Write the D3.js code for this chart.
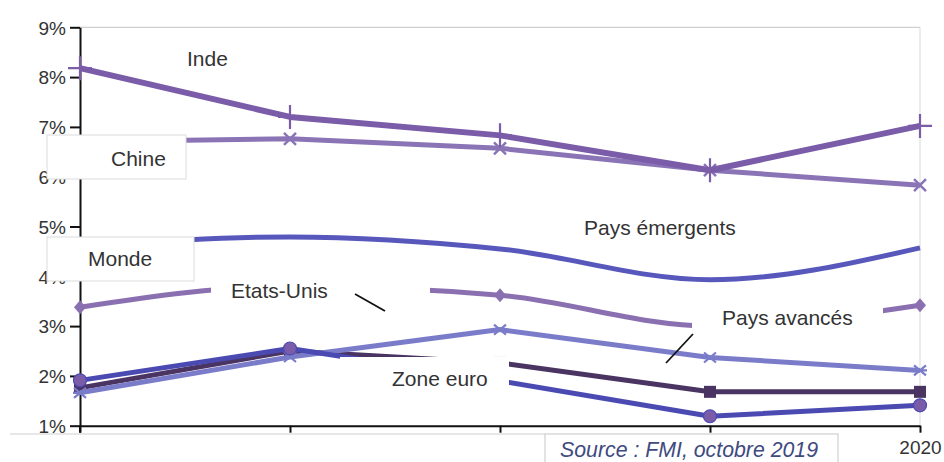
<!DOCTYPE html>
<html lang="fr">
<head>
<meta charset="utf-8">
<title>Croissance du PIB</title>
<script src="https://cdn.jsdelivr.net/npm/d3@7"></script>
<style>
  html, body { margin: 0; padding: 0; background: #fff; }
  svg { display: block; font-family: "Liberation Sans", Arial, sans-serif; }
</style>
</head>
<body>
<svg id="chart" width="944" height="462"></svg>
<script>
// Years and tick labels
const years = ["2016", "2017", "2018", "2019", "2020"];
const yTicks = [1, 2, 3, 4, 5, 6, 7, 8, 9];

// Growth rates in % per year
const inde      = [8.18, 7.20, 6.83, 6.13, 7.02];
const chine     = [6.70, 6.76, 6.57, 6.13, 5.83];
const emergents = [4.60, 4.79, 4.55, 3.93, 4.57];
const monde     = [3.38, 3.80, 3.62, 3.00, 3.42];
const avances   = [1.76, 2.50, 2.26, 1.68, 1.68];
const etatsUnis = [1.66, 2.38, 2.93, 2.37, 2.11];
const zoneEuro  = [1.91, 2.55, 1.90, 1.19, 1.41];

const series = [
  { name: "Pays émergents", values: emergents, color: "#5858bc", width: 5, marker: "none",    smooth: true },
  { name: "Monde",          values: monde,     color: "#8a70b0", width: 5, marker: "diamond", smooth: true },
  { name: "Chine",          values: chine,     color: "#8a74b6", width: 5, marker: "cross",   smooth: false },
  { name: "Inde",           values: inde,      color: "#7a5ca8", width: 6, marker: "plus",    smooth: false },
  { name: "Pays avancés",   values: avances,   color: "#4a3462", width: 5, marker: "square",  smooth: false },
  { name: "Etats-Unis",     values: etatsUnis, color: "#7a7cca", width: 5, marker: "star",    smooth: false },
  { name: "Zone euro",      values: zoneEuro,  color: "#4a4ab2", width: 5, marker: "circle",  smooth: false }
];

const svg = d3.select("#chart");
const x = d3.scalePoint().domain(years).range([80, 920]);
const y = d3.scaleLinear().domain([1, 9]).range([425.7, 27.3]);

// Plot frame: top gridline and right border
svg.append("line").attr("x1", x(years[0])).attr("x2", x(years[4]))
  .attr("y1", y(9)).attr("y2", y(9)).attr("stroke", "#d0d0d0").attr("stroke-width", 1.2);
svg.append("line").attr("x1", x(years[4])).attr("x2", x(years[4]))
  .attr("y1", y(9)).attr("y2", y(1)).attr("stroke", "#e0e0e0").attr("stroke-width", 1.2);

// Axes (only the last year is labelled; the others sit under the footer)
const yAxis = d3.axisLeft(y).tickValues(yTicks).tickFormat(d => d + "%").tickSize(10).tickSizeOuter(0);
const gy = svg.append("g").attr("transform", `translate(${x(years[0])},0)`).call(yAxis);
const xAxis = d3.axisBottom(x).tickSize(7).tickSizeOuter(0)
  .tickFormat(d => d === years[years.length - 1] ? d : "");
const gx = svg.append("g").attr("transform", `translate(0,${y(1)})`).call(xAxis);
[gy, gx].forEach(g => {
  g.select(".domain").attr("stroke", "#111").attr("stroke-width", 2);
  g.selectAll(".tick line").attr("stroke", "#111").attr("stroke-width", 2);
  g.selectAll(".tick text").attr("fill", "#333").style("font-size", "19px")
    .style("font-family", "'Liberation Sans', Arial, sans-serif");
});
gy.selectAll(".tick text").attr("x", -14).attr("dy", "0.36em");
gx.selectAll(".tick text").attr("y", 15).attr("dy", "0.71em");
gx.selectAll(".tick text").filter(d => d !== years[years.length - 1]).remove();
// extend the vertical axis slightly below the baseline
svg.append("line").attr("x1", x(years[0])).attr("x2", x(years[0]))
  .attr("y1", y(1)).attr("y2", y(1) + 7).attr("stroke", "#111").attr("stroke-width", 2);

// Lines
const smoothLine = d3.line().x((d, i) => x(years[i])).y(d => y(d)).curve(d3.curveMonotoneX);
const straightLine = d3.line().x((d, i) => x(years[i])).y(d => y(d));

const gLines = svg.append("g");
series.forEach(s => {
  const g = gLines.append("g");
  g.append("path").datum(s.values).attr("d", s.smooth ? smoothLine : straightLine)
    .attr("fill", "none").attr("stroke", s.color).attr("stroke-width", s.width)
    .attr("stroke-linejoin", "round").attr("stroke-linecap", "butt");

  const pts = s.values.map((v, i) => [x(years[i]), y(v)]);
  pts.forEach(([px, py]) => {
    if (s.marker === "plus") {
      g.append("path").attr("d", `M${px - 12},${py}H${px + 12}M${px},${py - 12}V${py + 12}`)
        .attr("stroke", s.color).attr("stroke-width", 2.2);
    } else if (s.marker === "cross") {
      g.append("path").attr("d", `M${px - 6},${py - 6}L${px + 6},${py + 6}M${px - 6},${py + 6}L${px + 6},${py - 6}`)
        .attr("stroke", s.color).attr("stroke-width", 2.5);
    } else if (s.marker === "star") {
      g.append("path").attr("d", `M${px - 6},${py - 5}L${px + 6},${py + 5}M${px - 6},${py + 5}L${px + 6},${py - 5}M${px - 7},${py}H${px + 7}`)
        .attr("stroke", s.color).attr("stroke-width", 2.2);
    } else if (s.marker === "diamond") {
      g.append("path").attr("d", `M${px},${py - 7}L${px + 6},${py}L${px},${py + 7}L${px - 6},${py}Z`)
        .attr("fill", s.color);
    } else if (s.marker === "square") {
      g.append("rect").attr("x", px - 6).attr("y", py - 6).attr("width", 12).attr("height", 12)
        .attr("fill", s.color);
    } else if (s.marker === "circle") {
      g.append("circle").attr("cx", px).attr("cy", py).attr("r", 6.5)
        .attr("fill", "#7a5ca8").attr("stroke", s.color).attr("stroke-width", 1.2);
    }
  });
});

// Annotation boxes (white backgrounds behind the series labels)
const boxes = [
  { x: 47,  y: 135, w: 139, h: 44, border: true },
  { x: 47,  y: 237, w: 147, h: 44, border: true },
  { x: 211, y: 262, w: 219, h: 58, border: false },
  { x: 340, y: 357, w: 169, h: 48, border: false },
  { x: 692, y: 296, w: 191, h: 48, border: false }
];
svg.append("g").selectAll("rect").data(boxes).join("rect")
  .attr("x", d => d.x).attr("y", d => d.y).attr("width", d => d.w).attr("height", d => d.h)
  .attr("fill", "#fff").attr("stroke", d => d.border ? "#dcdcdc" : "none").attr("stroke-width", 1);

// Series labels
const labels = [
  { text: "Inde",           x: 187, y: 66 },
  { text: "Chine",          x: 111, y: 166 },
  { text: "Monde",          x: 88,  y: 266 },
  { text: "Etats-Unis",     x: 231, y: 298 },
  { text: "Pays émergents", x: 584, y: 235 },
  { text: "Pays avancés",   x: 722, y: 325 },
  { text: "Zone euro",      x: 392, y: 386 }
];
svg.append("g").selectAll("text").data(labels).join("text")
  .attr("x", d => d.x).attr("y", d => d.y).text(d => d.text)
  .attr("fill", "#333").style("font-size", "21px");

// Leader lines
const leaders = [
  [[355, 294], [385, 311]],
  [[693, 334], [666, 363]]
];
svg.append("g").selectAll("path").data(leaders).join("path")
  .attr("d", d => d3.line()(d)).attr("stroke", "#111").attr("stroke-width", 1.8);

// Footer panels over the lower year labels, with the source note
svg.append("rect").attr("x", 10).attr("y", 434).attr("width", 535).attr("height", 40).attr("fill", "#fff");
svg.append("line").attr("x1", 10).attr("x2", 545).attr("y1", 434).attr("y2", 434)
  .attr("stroke", "#d0d0d0").attr("stroke-width", 1.2);
svg.append("rect").attr("x", 545).attr("y", 434).attr("width", 293).attr("height", 40)
  .attr("fill", "#fff").attr("stroke", "#d0d0d0").attr("stroke-width", 1.2);
svg.append("text").attr("x", 560).attr("y", 457)
  .text("Source : FMI, octobre 2019")
  .attr("fill", "#3e4a80").style("font-size", "21.3px").style("font-style", "italic");
</script>
</body>
</html>
